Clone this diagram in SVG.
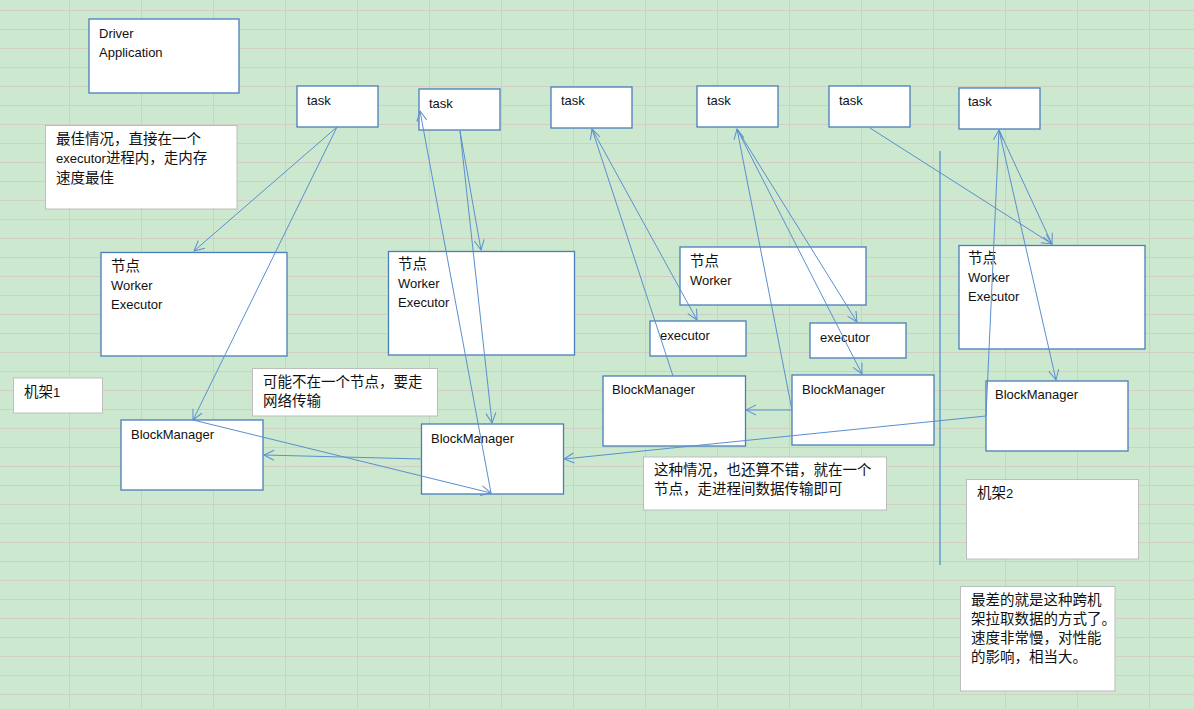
<svg xmlns="http://www.w3.org/2000/svg" width="1194" height="709" viewBox="0 0 1194 709">
<defs>
<pattern id="grid" patternUnits="userSpaceOnUse" x="69" y="10" width="72" height="19">
<rect width="72" height="19" fill="#cce8cf"/>
<path d="M0.5,0 V19 M0,0.5 H72" stroke="#d1cec3" stroke-width="1" fill="none"/>
</pattern>
<marker id="arr" markerUnits="userSpaceOnUse" markerWidth="12" markerHeight="12" refX="10" refY="5" orient="auto" overflow="visible">
<path d="M0,0 L10,5 L0,10" fill="none" stroke="#5a8fd0" stroke-width="1"/>
</marker>
<style>
.box{fill:#fff;stroke:#4a7ebb;stroke-width:1.3}
.note{fill:#fff;stroke:#bdbdbd;stroke-width:1}
.t{font-family:"Liberation Sans","Noto Sans CJK SC",sans-serif;font-size:13px;fill:#111}
.c{font-family:"Noto Sans CJK SC","Liberation Sans",sans-serif;font-size:14.5px;fill:#111}
.conn path{fill:none;stroke:#5a8fd0;stroke-width:1;marker-end:url(#arr)}
.sep{fill:none;stroke:#5a8fd0;stroke-width:1.3}
</style>
</defs>
<rect width="1194" height="709" fill="url(#grid)"/>

<g id="driver"><rect class="box" x="89" y="19" width="150" height="74"/>
<text class="t" x="99" y="38">Driver</text><text class="t" x="99" y="57">Application</text></g>

<g id="note-best"><rect class="note" x="45.5" y="125.5" width="191.5" height="83.5"/>
<text class="c" x="56" y="143.5">最佳情况，直接在一个</text>
<text class="c" x="56" y="163"><tspan class="t">executor</tspan>进程内，走内存</text>
<text class="c" x="56" y="182.5">速度最佳</text></g>

<g id="task1"><rect class="box" x="297" y="86" width="81" height="41"/><text class="t" x="307" y="105">task</text></g>
<g id="task2"><rect class="box" x="419" y="89" width="81" height="41"/><text class="t" x="429" y="108">task</text></g>
<g id="task3"><rect class="box" x="551" y="87" width="81" height="41"/><text class="t" x="561" y="105">task</text></g>
<g id="task4"><rect class="box" x="697" y="86" width="81" height="41"/><text class="t" x="707" y="105">task</text></g>
<g id="task5"><rect class="box" x="829" y="86" width="81" height="41"/><text class="t" x="839" y="105">task</text></g>
<g id="task6"><rect class="box" x="959" y="88" width="81" height="41"/><text class="t" x="968" y="106">task</text></g>

<g id="node1"><rect class="box" x="101" y="252.5" width="186" height="103.5"/>
<text class="c" x="111" y="270.5">节点</text><text class="t" x="111" y="290">Worker</text><text class="t" x="111" y="309">Executor</text></g>
<g id="node2"><rect class="box" x="388.5" y="251.5" width="186" height="103.5"/>
<text class="c" x="398" y="268.5">节点</text><text class="t" x="398" y="288">Worker</text><text class="t" x="398" y="307">Executor</text></g>
<g id="node3"><rect class="box" x="680" y="247" width="186" height="58"/>
<text class="c" x="690" y="265.5">节点</text><text class="t" x="690" y="285">Worker</text></g>
<g id="node4"><rect class="box" x="959" y="245.5" width="186" height="103.5"/>
<text class="c" x="968" y="262.5">节点</text><text class="t" x="968" y="282">Worker</text><text class="t" x="968" y="301">Executor</text></g>

<g id="exec1"><rect class="box" x="650" y="321" width="96" height="35"/><text class="t" x="660" y="340">executor</text></g>
<g id="exec2"><rect class="box" x="810" y="323" width="96" height="35"/><text class="t" x="820" y="342">executor</text></g>

<g id="bm1"><rect class="box" x="121" y="420" width="142" height="70"/><text class="t" x="131" y="439">BlockManager</text></g>
<g id="bm2"><rect class="box" x="421.5" y="424" width="142" height="70"/><text class="t" x="431" y="443">BlockManager</text></g>
<g id="bm3"><rect class="box" x="603" y="376" width="142.5" height="70"/><text class="t" x="612" y="394">BlockManager</text></g>
<g id="bm4"><rect class="box" x="792" y="375" width="142" height="70"/><text class="t" x="802" y="394">BlockManager</text></g>
<g id="bm5"><rect class="box" x="986" y="381" width="142" height="70"/><text class="t" x="995" y="398.5">BlockManager</text></g>

<g id="rack1"><rect class="note" x="13.5" y="378" width="89" height="35"/><text class="c" x="24" y="396.5">机架<tspan class="t">1</tspan></text></g>
<g id="note-network"><rect class="note" x="252.5" y="368.5" width="185" height="47.5"/>
<text class="c" x="263" y="387">可能不在一个节点，要走</text><text class="c" x="263" y="406">网络传输</text></g>
<g id="note-process"><rect class="note" x="643.5" y="457" width="243" height="53"/>
<text class="c" x="654" y="475">这种情况，也还算不错，就在一个</text><text class="c" x="654" y="494">节点，走进程间数据传输即可</text></g>
<g id="rack2"><rect class="note" x="966.5" y="479.5" width="172" height="79.5"/><text class="c" x="977" y="498">机架<tspan class="t">2</tspan></text></g>
<g id="note-worst"><rect class="note" x="960.5" y="586.5" width="154.5" height="104.5"/>
<text class="c" x="971" y="604.5">最差的就是这种跨机</text>
<text class="c" x="971" y="624">架拉取数据的方式了。</text>
<text class="c" x="971" y="643">速度非常慢，对性能</text>
<text class="c" x="971" y="662">的影响，相当大。</text></g>

<path id="rack-separator" class="sep" d="M940,151 V565"/>

<g id="connectors" class="conn">
<path d="M337,127 L194,251"/>
<path d="M337,127 L193,420"/>
<path d="M460,131 L481,250"/>
<path d="M460,131 L492,423"/>
<path d="M491,493 L420,111"/>
<path d="M193,420 L491,493"/>
<path d="M422,459 L264,455"/>
<path d="M592,129 L697,320"/>
<path d="M673,376 L592,129"/>
<path d="M737,129 L857,322"/>
<path d="M737,129 L862,374"/>
<path d="M792,410 L737,129"/>
<path d="M792,410 L746,410"/>
<path d="M870,128 L1052,244"/>
<path d="M999,130 L1052,244"/>
<path d="M999,130 L1056,380"/>
<path d="M986,416 L999,130"/>
<path d="M986,416 L564,459"/>
</g>
</svg>
